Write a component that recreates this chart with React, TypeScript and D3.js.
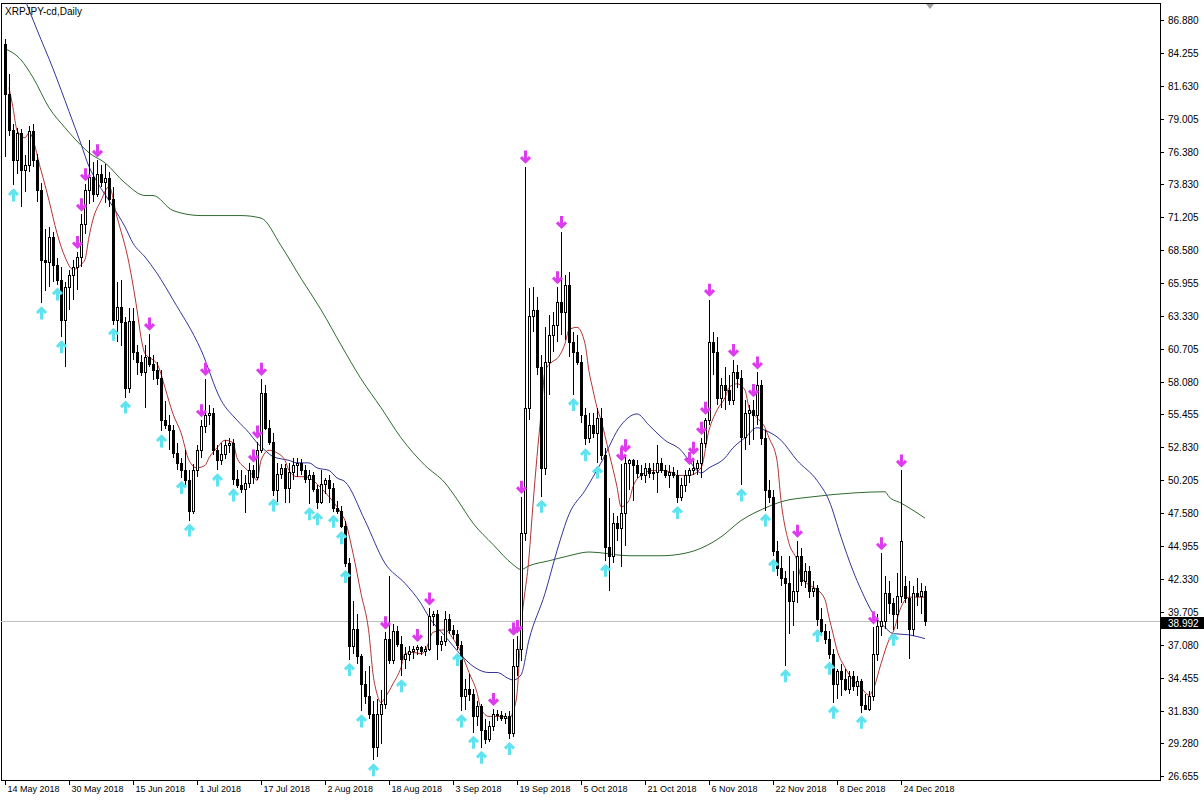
import { useEffect, useRef } from "react";
import * as d3 from "d3";

// daily bars, XRPJPY-cd, 14 May 2018 .. 30 Dec 2018
const openP = [
  85.0, 81.0, 78.1, 75.7, 77.9, 74.9, 75.3, 78.0, 75.7, 73.3, 67.8, 67.6, 69.6, 67.4, 66.2, 63.0, 65.6, 66.6, 67.2, 68.0,
  70.6, 73.3, 74.4, 73.0, 74.6, 74.0, 74.3, 72.6, 63.0, 64.0, 62.8, 57.6, 62.9, 60.4, 59.6, 58.8, 60.0, 59.5, 59.0, 58.4,
  55.0, 54.6, 54.2, 52.4, 51.6, 51.0, 50.2, 47.8, 51.0, 52.6, 54.5, 55.4, 55.6, 52.6, 51.8, 52.3, 53.0, 53.2, 50.3, 49.8,
  49.5, 50.0, 51.0, 50.5, 52.6, 57.2, 54.4, 53.3, 49.4, 50.7, 51.2, 49.6, 50.9, 51.4, 51.6, 51.0, 50.3, 50.6, 49.5, 48.5,
  49.9, 50.2, 49.6, 48.0, 47.8, 46.6, 43.6, 37.0, 38.4, 36.2, 34.0, 33.0, 31.6, 29.0, 31.6, 32.4, 37.6, 35.9, 38.2, 37.2,
  36.0, 36.4, 36.6, 36.8, 36.9, 36.6, 36.8, 39.4, 39.6, 37.2, 37.4, 39.2, 38.3, 38.0, 37.1, 33.0, 33.6, 33.2, 31.4, 32.2,
  30.3, 29.6, 30.6, 31.6, 31.5, 31.3, 31.4, 30.1, 35.4, 36.8, 46.0, 56.0, 63.3, 63.8, 59.2, 51.2, 59.6, 61.8, 62.6, 64.4,
  63.6, 65.8, 61.2, 60.4, 59.6, 55.4, 53.6, 54.6, 54.0, 55.2, 52.2, 44.9, 44.2, 46.8, 46.4, 47.6, 51.6, 51.8, 51.4, 50.8,
  50.6, 51.2, 50.8, 50.9, 51.6, 51.0, 50.6, 50.9, 50.6, 48.9, 49.8, 50.6, 51.0, 51.2, 51.6, 53.2, 55.0, 61.2, 60.4, 56.8,
  57.8, 57.4, 56.6, 58.8, 58.4, 53.7, 55.6, 55.8, 55.4, 57.8, 53.6, 49.4, 48.9, 44.6, 43.2, 42.4, 42.0, 40.6, 41.4, 44.2,
  42.2, 43.0, 41.4, 41.6, 39.2, 38.2, 37.6, 36.4, 34.0, 35.0, 34.4, 33.6, 34.6, 33.8, 34.2, 32.3, 32.0, 33.0, 36.4, 38.6,
  39.0, 41.2, 40.4, 39.6, 41.0, 41.8, 40.8, 38.4, 41.2, 41.0, 41.4,
];
const highP = [
  85.4, 82.6, 78.6, 78.3, 78.2, 76.1, 78.4, 78.6, 76.2, 73.9, 70.2, 70.4, 70.0, 67.9, 67.2, 66.0, 67.0, 67.8, 68.4, 71.4,
  73.8, 77.3, 75.6, 75.7, 75.3, 75.4, 74.8, 73.6, 66.0, 66.2, 63.2, 63.9, 63.9, 61.0, 60.2, 61.0, 61.9, 60.2, 59.6, 59.0,
  56.5, 55.4, 54.6, 53.2, 52.0, 52.6, 51.0, 51.5, 53.0, 55.0, 58.3, 56.2, 56.0, 53.0, 53.2, 53.4, 53.6, 53.5, 51.0, 51.0,
  50.6, 51.6, 51.4, 53.3, 58.3, 57.8, 55.0, 54.0, 51.6, 51.5, 51.5, 51.6, 52.0, 52.0, 51.9, 51.4, 51.0, 50.9, 49.8, 51.0,
  50.4, 50.6, 50.0, 48.6, 48.2, 47.0, 44.0, 40.6, 39.6, 36.4, 35.0, 35.4, 32.6, 32.8, 33.5, 38.1, 42.6, 38.8, 38.6, 37.8,
  36.9, 37.0, 37.0, 37.1, 37.0, 37.0, 40.0, 39.8, 39.9, 37.8, 39.8, 39.6, 38.7, 38.3, 37.4, 34.4, 34.8, 33.6, 32.6, 32.4,
  31.2, 31.0, 32.0, 31.9, 31.8, 31.7, 31.8, 37.6, 37.8, 48.9, 75.2, 65.5, 65.6, 64.8, 60.2, 62.4, 63.4, 63.6, 65.6, 70.0,
  66.6, 66.8, 62.0, 61.8, 60.2, 56.0, 55.6, 55.6, 56.0, 56.0, 52.8, 48.8, 47.6, 47.4, 51.5, 52.2, 51.9, 51.9, 51.8, 51.4,
  51.6, 51.6, 51.6, 53.0, 52.0, 51.4, 51.4, 51.3, 51.0, 50.4, 51.0, 51.2, 52.0, 51.8, 53.6, 55.2, 64.6, 62.0, 61.6, 58.4,
  59.2, 58.6, 59.8, 59.4, 59.0, 56.6, 56.2, 56.6, 58.8, 58.2, 54.2, 50.2, 49.4, 45.4, 44.2, 43.0, 44.2, 43.0, 45.4, 44.8,
  43.6, 43.4, 42.2, 41.9, 40.0, 38.8, 38.2, 36.8, 35.2, 35.6, 35.2, 35.0, 35.0, 34.6, 34.4, 33.2, 33.4, 38.5, 39.6, 44.4,
  42.6, 42.2, 40.8, 42.8, 51.0, 42.6, 42.2, 41.8, 42.4, 42.0, 41.8,
];
const lowP = [
  76.0, 77.6, 73.7, 74.6, 72.0, 73.2, 74.8, 75.2, 72.4, 64.3, 65.3, 65.6, 66.0, 65.8, 61.6, 59.2, 63.8, 64.6, 65.4, 67.2,
  69.8, 72.2, 72.4, 72.8, 73.6, 72.3, 72.0, 62.6, 61.2, 60.9, 56.8, 57.2, 59.8, 58.6, 58.5, 56.0, 59.2, 58.2, 57.8, 54.1,
  54.3, 52.6, 52.0, 51.0, 50.4, 49.8, 47.0, 47.5, 50.5, 52.0, 54.0, 54.6, 52.2, 51.0, 51.4, 51.9, 52.4, 49.8, 49.6, 49.2,
  47.6, 49.6, 49.9, 50.2, 52.4, 54.2, 53.0, 49.0, 48.5, 50.3, 48.4, 48.4, 50.2, 50.5, 50.6, 50.0, 48.3, 49.3, 47.9, 48.3,
  49.1, 48.4, 47.7, 47.5, 46.4, 43.3, 35.9, 36.4, 35.6, 31.8, 32.4, 31.2, 27.9, 28.2, 29.2, 32.0, 35.6, 35.6, 36.9, 34.6,
  35.2, 35.8, 36.0, 36.3, 36.3, 36.2, 36.6, 38.6, 35.9, 36.6, 37.0, 38.0, 37.6, 36.7, 31.8, 31.9, 32.6, 30.1, 30.6, 28.9,
  29.2, 29.4, 30.2, 31.0, 31.0, 30.8, 29.6, 29.8, 34.6, 35.8, 45.4, 55.0, 62.0, 58.6, 48.9, 50.6, 57.0, 60.4, 61.2, 61.8,
  61.4, 60.0, 57.0, 59.4, 54.8, 53.0, 53.2, 53.6, 51.6, 51.8, 43.8, 41.4, 43.6, 45.4, 43.3, 45.0, 49.4, 48.6, 50.4, 50.2,
  50.0, 50.4, 50.2, 49.2, 50.8, 50.4, 49.6, 50.4, 48.4, 48.6, 49.3, 50.0, 50.6, 50.6, 50.4, 52.8, 54.6, 58.6, 56.2, 56.0,
  55.8, 56.2, 56.2, 57.6, 49.8, 52.6, 53.0, 53.4, 54.6, 53.0, 47.8, 48.4, 44.2, 42.6, 41.8, 35.4, 38.0, 38.6, 40.4, 41.8,
  41.6, 40.8, 40.9, 38.6, 37.8, 37.2, 36.0, 32.5, 32.8, 33.0, 33.4, 33.2, 33.4, 33.0, 31.7, 31.9, 31.8, 32.6, 35.8, 37.8,
  38.4, 39.6, 38.3, 38.4, 40.4, 40.4, 36.0, 37.8, 40.2, 39.6, 38.6,
];
const closeP = [
  81.0, 78.1, 75.7, 77.9, 74.9, 75.3, 78.0, 75.7, 73.3, 67.8, 67.6, 69.6, 67.4, 66.2, 63.0, 65.6, 66.6, 67.2, 68.0, 70.6,
  73.3, 74.4, 73.0, 74.6, 74.0, 74.3, 72.6, 63.0, 64.0, 62.8, 57.6, 62.9, 60.4, 59.6, 58.8, 60.0, 59.5, 59.0, 58.4, 55.0,
  54.6, 54.2, 52.4, 51.6, 51.0, 50.2, 47.8, 51.0, 52.6, 54.5, 55.4, 55.6, 52.6, 51.8, 52.3, 53.0, 53.2, 50.3, 49.8, 49.5,
  50.0, 51.0, 50.5, 52.6, 57.2, 54.4, 53.3, 49.4, 50.7, 51.2, 49.6, 50.9, 51.4, 51.6, 51.0, 50.3, 50.6, 49.5, 48.5, 49.9,
  50.2, 49.6, 48.0, 47.8, 46.6, 43.6, 37.0, 38.4, 36.2, 34.0, 33.0, 31.6, 29.0, 31.6, 32.4, 37.6, 35.9, 38.2, 37.2, 36.0,
  36.4, 36.6, 36.8, 36.9, 36.6, 36.8, 39.4, 39.6, 37.2, 37.4, 39.2, 38.3, 38.0, 37.1, 33.0, 33.6, 33.2, 31.4, 32.2, 30.3,
  29.6, 30.6, 31.6, 31.5, 31.3, 31.4, 30.1, 35.4, 36.8, 46.0, 56.0, 63.3, 63.8, 59.2, 51.2, 59.6, 61.8, 62.6, 64.4, 63.6,
  65.8, 61.2, 60.4, 59.6, 55.4, 53.6, 54.6, 54.0, 55.2, 52.2, 44.9, 44.2, 46.8, 46.4, 47.6, 51.6, 51.8, 51.4, 50.8, 50.6,
  51.2, 50.8, 50.9, 51.6, 51.0, 50.6, 50.9, 50.6, 48.9, 49.8, 50.6, 51.0, 51.2, 51.6, 53.2, 55.0, 61.2, 60.4, 56.8, 57.8,
  57.4, 56.6, 58.8, 58.4, 53.7, 55.6, 55.8, 55.4, 57.8, 53.6, 49.4, 48.9, 44.6, 43.2, 42.4, 42.0, 40.6, 41.4, 44.2, 42.2,
  43.0, 41.4, 41.6, 39.2, 38.2, 37.6, 36.4, 34.0, 35.0, 34.4, 33.6, 34.6, 33.8, 34.2, 32.3, 32.0, 33.0, 36.4, 38.6, 39.0,
  41.2, 40.4, 39.6, 41.0, 45.4, 40.8, 38.4, 41.2, 41.0, 41.4, 38.992,
];

// moving averages: [bar index, price]
const fastMA: [number, number][] = [
  [1, 81.5], [2, 79.9], [3, 78.1], [5, 77.5], [6, 77.9], [9, 74.9], [11, 72.5], [13, 69.9], [15, 68.0], [17, 67.0],
  [18, 67.1], [19, 67.4], [20, 67.8], [21, 69.6], [22, 71.0], [24, 72.5], [26, 73.6], [28, 71.2], [31, 67.5], [33, 63.8],
  [34, 61.6], [35, 60.3], [37, 59.8], [38, 59.5], [40, 57.6], [41, 56.5], [42, 55.5], [44, 54.0], [46, 51.8], [48, 51.2],
  [50, 51.4], [51, 52.0], [53, 52.8], [55, 53.4], [57, 53.2], [58, 52.0], [60, 51.2], [62, 50.6], [63, 50.2], [64, 51.8],
  [66, 52.6], [68, 52.4], [70, 51.8], [71, 51.0], [73, 50.5], [75, 50.5], [77, 50.2], [79, 49.6], [81, 48.9], [83, 48.1],
  [84, 47.6], [85, 47.0], [87, 44.4], [89, 41.2], [91, 38.0], [92, 34.8], [93, 33.2], [94, 32.5], [95, 32.9], [97, 34.0],
  [99, 35.3], [100, 36.4], [102, 36.5], [104, 36.4], [105, 36.6], [107, 38.1], [110, 38.3], [112, 37.6], [114, 36.5],
  [116, 34.9], [118, 33.3], [119, 32.0], [121, 31.4], [122, 31.4], [125, 31.4], [126, 31.2], [127, 31.8], [128, 33.2],
  [129, 38.3], [131, 44.1], [132, 48.3], [133, 52.1], [134, 55.5], [135, 58.9], [137, 59.7], [138, 59.9], [140, 61.1],
  [141, 62.2], [143, 62.4], [145, 61.1], [146, 58.9], [147, 57.4], [148, 56.0], [149, 55.0], [151, 52.4], [153, 49.7],
  [154, 48.1], [156, 48.6], [157, 49.7], [159, 50.6], [162, 51.0], [164, 51.0], [167, 50.8], [168, 50.6], [170, 50.6],
  [171, 50.6], [174, 51.2], [176, 54.2], [178, 55.8], [180, 56.8], [181, 57.6], [183, 57.9], [185, 57.4], [186, 56.0],
  [188, 55.2], [190, 54.4], [191, 53.6], [193, 51.8], [194, 48.6], [196, 45.2], [198, 43.8], [199, 42.5], [202, 41.7],
  [203, 41.5], [205, 40.7], [206, 39.3], [207, 38.0], [208, 36.7], [210, 35.3], [212, 34.3], [214, 33.7], [216, 33.1],
  [217, 33.5], [219, 35.6], [221, 37.5], [222, 38.1], [224, 40.1], [226, 40.9], [227, 40.9], [229, 40.9], [230, 40.9],
];
const midMA: [number, number][] = [
  [5, 88.5], [8, 86.1], [12, 83.0], [16, 79.6], [19, 77.0], [21, 75.2], [23, 74.0], [27, 72.0], [30, 70.4], [32, 69.1],
  [35, 68.0], [38, 66.7], [42, 64.6], [49, 60.6], [54, 56.6], [58, 55.0], [61, 54.0], [63, 53.2], [65, 52.6], [67, 52.1],
  [71, 51.8], [73, 51.6], [76, 51.6], [78, 51.2], [81, 51.0], [83, 50.4], [85, 50.1], [90, 47.0], [95, 43.6], [100, 42.0],
  [104, 40.4], [106, 39.3], [110, 37.8], [114, 36.3], [117, 35.4], [121, 34.9], [123, 34.9], [126, 34.4], [127, 34.3],
  [129, 34.7], [131, 37.5], [135, 41.2], [138, 44.6], [141, 47.5], [145, 49.4], [149, 51.6], [154, 54.6], [158, 55.5],
  [161, 54.6], [165, 53.4], [169, 52.6], [171, 51.8], [174, 50.8], [176, 51.2], [180, 52.0], [182, 52.8], [185, 53.6],
  [188, 54.4], [190, 54.2], [194, 53.4], [198, 51.8], [203, 50.2], [206, 48.6], [209, 45.7], [212, 43.0], [214, 41.5],
  [217, 39.6], [220, 38.5], [222, 38.0], [226, 37.9], [230, 37.6],
];
const slowMA: [number, number][] = [
  [0, 84.6], [4, 83.7], [7, 82.3], [11, 79.9], [15, 78.3], [19, 76.9], [21, 76.3], [25, 75.5], [30, 73.9], [35, 72.9],
  [37, 72.9], [42, 71.7], [49, 71.3], [59, 71.3], [64, 71.1], [69, 68.9], [74, 66.3], [79, 63.8], [84, 61.0], [89, 58.3],
  [94, 56.0], [99, 53.6], [105, 51.4], [110, 50.0], [113, 48.7], [117, 46.8], [122, 45.1], [127, 43.5], [129, 43.1],
  [131, 43.4], [136, 43.8], [141, 44.2], [146, 44.5], [156, 44.2], [164, 44.2], [170, 44.4], [174, 44.8], [179, 45.7],
  [184, 47.0], [190, 48.0], [194, 48.5], [202, 48.9], [212, 49.2], [220, 49.3], [221, 48.9], [224, 48.4], [230, 47.2],
];

// bars carrying an arrow: magenta above the high, cyan below the low
const upperArrows = [18, 19, 20, 23, 36, 49, 50, 62, 63, 64, 95, 103, 106, 122, 127, 128, 129, 130, 138, 139, 154, 155,
  171, 172, 174, 175, 176, 182, 187, 188, 198, 217, 219, 224];
const lowerArrows = [2, 9, 13, 14, 27, 30, 39, 44, 46, 53, 57, 67, 76, 78, 82, 84, 85, 86, 89, 92, 99, 113, 114, 117,
  119, 126, 134, 142, 145, 148, 150, 168, 184, 190, 192, 195, 203, 206, 207, 214, 222];

const priceTicks = ["86.880", "84.255", "81.630", "79.005", "76.380", "73.830", "71.205", "68.580", "65.955", "63.330",
  "60.705", "58.080", "55.455", "52.830", "50.205", "47.580", "44.955", "42.330", "39.705", "37.080", "34.455", "31.830",
  "29.280", "26.655"];
const dateLabels = ["14 May 2018", "30 May 2018", "15 Jun 2018", "1 Jul 2018", "17 Jul 2018", "2 Aug 2018",
  "18 Aug 2018", "3 Sep 2018", "19 Sep 2018", "5 Oct 2018", "21 Oct 2018", "6 Nov 2018", "22 Nov 2018", "8 Dec 2018",
  "24 Dec 2018"];
const lastPrice = 38.992;
const title = "XRPJPY-cd,Daily";

const W = 1204;
const H = 802;
const FONT = "'Liberation Sans', Arial, sans-serif";

export default function App() {
  const svgRef = useRef<SVGSVGElement | null>(null);

  useEffect(() => {
    if (!svgRef.current) return;
    document.body.style.margin = "0";
    const svg = d3.select(svgRef.current);
    svg.selectAll("*").remove();

    const left = 1, top = 3, right = 1160, bottom = 780;
    const n = closeP.length;
    const x = d3.scaleLinear().domain([0, n - 1]).range([5, 5 + 4 * (n - 1)]);
    const y = d3.scaleLinear().domain([26.655, 86.88]).range([776, 20]);

    svg.append("rect").attr("width", W).attr("height", H).attr("fill", "#fff");

    svg.append("defs").append("clipPath").attr("id", "plot")
      .append("rect").attr("x", left).attr("y", top).attr("width", right - left).attr("height", bottom - top);

    // frame
    svg.append("rect")
      .attr("x", left + 0.5).attr("y", top + 0.5)
      .attr("width", right - left).attr("height", bottom - top)
      .attr("fill", "none").attr("stroke", "#000").attr("stroke-width", 1);

    const g = svg.append("g").attr("clip-path", "url(#plot)");

    // last price line
    g.append("line")
      .attr("x1", left).attr("x2", right)
      .attr("y1", Math.round(y(lastPrice)) + 0.5).attr("y2", Math.round(y(lastPrice)) + 0.5)
      .attr("stroke", "#c0c0c0");

    // moving averages
    const line = d3.line<[number, number]>()
      .x((d) => x(d[0]))
      .y((d) => y(d[1]))
      .curve(d3.curveMonotoneX);
    g.append("path").attr("d", line(slowMA)).attr("fill", "none").attr("stroke", "#2f6b2f").attr("stroke-width", 1);
    g.append("path").attr("d", line(midMA)).attr("fill", "none").attr("stroke", "#34349a").attr("stroke-width", 1);
    g.append("path").attr("d", line(fastMA)).attr("fill", "none").attr("stroke", "#b23434").attr("stroke-width", 1);

    // candles
    const idx = d3.range(n);
    const cg = g.append("g");
    cg.selectAll("line.wick").data(idx).enter().append("line")
      .attr("x1", (i) => Math.round(x(i)) + 0.5).attr("x2", (i) => Math.round(x(i)) + 0.5)
      .attr("y1", (i) => Math.round(y(highP[i]))).attr("y2", (i) => Math.round(y(lowP[i])))
      .attr("stroke", "#000");
    cg.selectAll("rect.body").data(idx).enter().append("rect")
      .attr("x", (i) => Math.round(x(i)) - 1 + 0.5)
      .attr("y", (i) => Math.round(y(Math.max(openP[i], closeP[i]))) + 0.5)
      .attr("width", 2)
      .attr("height", (i) => Math.max(0, Math.round(y(Math.min(openP[i], closeP[i]))) - Math.round(y(Math.max(openP[i], closeP[i])))))
      .attr("fill", (i) => (closeP[i] >= openP[i] ? "#fff" : "#000"))
      .attr("stroke", "#000");

    // arrows
    const ag = g.append("g");
    upperArrows.forEach((i) => {
      const cx = Math.round(x(i)) + 0.5;
      const cy = y(highP[i]) - 10;
      ag.append("path")
        .attr("d", `M${cx},${cy - 6}L${cx},${cy + 5}M${cx - 4.5},${cy + 0.5}L${cx},${cy + 5}L${cx + 4.5},${cy + 0.5}`)
        .attr("fill", "none").attr("stroke", "#dd3cee").attr("stroke-width", 3);
    });
    lowerArrows.forEach((i) => {
      const cx = Math.round(x(i)) + 0.5;
      const cy = y(lowP[i]) + 10;
      ag.append("path")
        .attr("d", `M${cx},${cy + 6}L${cx},${cy - 5}M${cx - 4.5},${cy - 0.5}L${cx},${cy - 5}L${cx + 4.5},${cy - 0.5}`)
        .attr("fill", "none").attr("stroke", "#5fe3ee").attr("stroke-width", 3);
    });

    // price axis
    const pa = svg.append("g").attr("font-family", FONT).attr("font-size", 10).attr("fill", "#000");
    priceTicks.forEach((t) => {
      const yy = Math.round(y(+t)) + 0.5;
      pa.append("line").attr("x1", right).attr("x2", right + 4).attr("y1", yy).attr("y2", yy).attr("stroke", "#000");
      pa.append("text").attr("x", right + 8).attr("y", yy + 3.5).text(t);
    });
    const ly = Math.round(y(lastPrice));
    pa.append("rect").attr("x", right + 1).attr("y", ly - 4).attr("width", W - right - 1).attr("height", 12).attr("fill", "#000");
    pa.append("text").attr("x", right + 8).attr("y", ly + 6).attr("fill", "#fff").text(lastPrice.toFixed(3));

    // date axis
    const parse = d3.timeParse("%d %b %Y");
    const start = parse(dateLabels[0]) as Date;
    const da = svg.append("g").attr("font-family", FONT).attr("font-size", 9).attr("fill", "#000");
    dateLabels.forEach((lab) => {
      const i = d3.timeDay.count(start, parse(lab) as Date);
      const xx = Math.round(x(i)) + 0.5;
      da.append("line").attr("x1", xx).attr("x2", xx).attr("y1", bottom).attr("y2", bottom + 5).attr("stroke", "#000");
      da.append("text").attr("x", xx + 2).attr("y", bottom + 12).text(lab);
    });

    // chart shift marker
    const sx = x(n - 1) + 5;
    svg.append("path").attr("d", `M${sx - 4},${top + 1}L${sx + 4},${top + 1}L${sx},${top + 6}Z`).attr("fill", "#a0a0a0");

    // title
    svg.append("text").attr("x", 5).attr("y", 15).attr("font-family", FONT).attr("font-size", 10).attr("fill", "#000").text(title);
  }, []);

  return <svg ref={svgRef} width={W} height={H} style={{ display: "block" }} />;
}
